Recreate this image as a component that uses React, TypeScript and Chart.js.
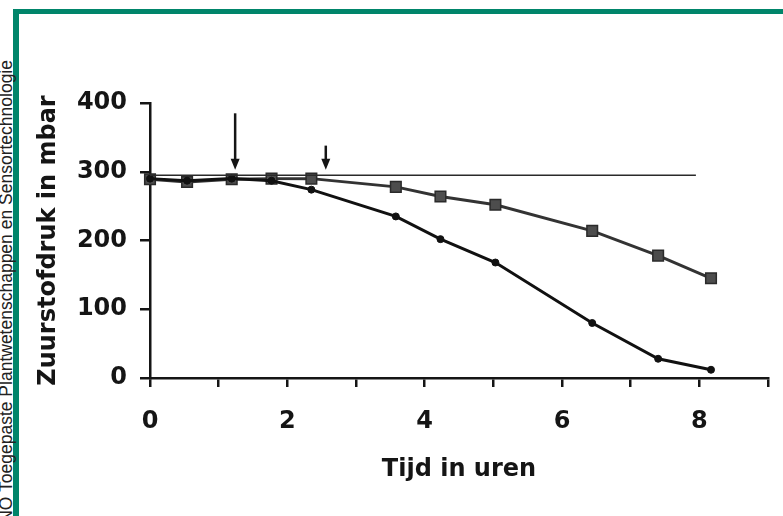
import React, { useEffect, useRef } from "react";
import { Chart, registerables } from "chart.js";

Chart.register(...registerables);

// Time in hours
const times = [0, 0.54, 1.19, 1.77, 2.35, 3.58, 4.23, 5.03, 6.44, 7.4, 8.17];
// Oxygen pressure (mbar) – upper series (squares)
const squareSeries = [289, 285, 289, 290, 290, 278, 264, 252, 214, 178, 145];
// Oxygen pressure (mbar) – lower series (dots)
const dotSeries = [290, 287, 290, 287, 274, 235, 202, 168, 80, 28, 12];
// Reference level line
const refLineX = [0, 7.95];
const refLineY = [295, 295];
// Arrows (x position, top value, tip value)
const arrowX = [1.24, 2.56];
const arrowTop = [385, 338];
const arrowTip = [303, 303];

const xTicks = [0, 1, 2, 3, 4, 5, 6, 7, 8, 9];
const yTicks = [0, 100, 200, 300, 400];

const GREEN = "#00856a";
const INK = "#151515";
const FONT = "'DejaVu Sans', sans-serif";

const arrowPlugin = {
  id: "arrows",
  afterDatasetsDraw(chart: any) {
    const { ctx, scales } = chart;
    const xs = scales.x;
    const ys = scales.y;
    ctx.save();
    ctx.strokeStyle = INK;
    ctx.fillStyle = INK;
    ctx.lineWidth = 2.5;
    arrowX.forEach((ax, i) => {
      const px = xs.getPixelForValue(ax);
      const pTop = ys.getPixelForValue(arrowTop[i]);
      const pTip = ys.getPixelForValue(arrowTip[i]);
      const head = 11;
      ctx.beginPath();
      ctx.moveTo(px, pTop);
      ctx.lineTo(px, pTip - head + 2);
      ctx.stroke();
      ctx.beginPath();
      ctx.moveTo(px - 4.5, pTip - head);
      ctx.lineTo(px + 4.5, pTip - head);
      ctx.lineTo(px, pTip);
      ctx.closePath();
      ctx.fill();
    });
    ctx.restore();
  },
};

export default function App() {
  const ref = useRef<HTMLCanvasElement | null>(null);

  useEffect(() => {
    document.body.style.margin = "0";
    document.body.style.background = "#ffffff";
    if (!ref.current) return;
    const chart = new Chart(ref.current, {
      type: "line",
      data: {
        datasets: [
          {
            label: "ref",
            data: refLineX.map((x, i) => ({ x, y: refLineY[i] })),
            borderColor: "#2a2a2a",
            borderWidth: 1.5,
            pointRadius: 0,
            clip: false as any,
          },
          {
            label: "dots",
            data: times.map((x, i) => ({ x, y: dotSeries[i] })),
            borderColor: "#111111",
            borderWidth: 3,
            pointStyle: "circle",
            pointRadius: 3.5,
            pointBackgroundColor: "#111111",
            pointBorderColor: "#111111",
            pointBorderWidth: 1,
            clip: false as any,
          },
          {
            label: "squares",
            data: times.map((x, i) => ({ x, y: squareSeries[i] })),
            borderColor: "#333333",
            borderWidth: 3,
            pointStyle: "rect",
            pointRadius: 7.5,
            pointBackgroundColor: "#4d4d4d",
            pointBorderColor: "#2a2a2a",
            pointBorderWidth: 1.5,
            clip: false as any,
          },
        ],
      },
      options: {
        animation: false,
        responsive: false,
        maintainAspectRatio: false,
        layout: { padding: { left: 20, right: 15, top: 103, bottom: 0 } },
        plugins: {
          legend: { display: false },
          tooltip: { enabled: false },
        },
        scales: {
          x: {
            type: "linear",
            min: 0,
            max: 9,
            afterFit(scale: any) {
              scale.height = 138;
              scale.paddingLeft = 0;
              scale.paddingRight = 0;
            },
            afterBuildTicks(scale: any) {
              scale.ticks = xTicks.map((v) => ({ value: v }));
            },
            border: { display: true, color: INK, width: 2.5 },
            grid: {
              display: true,
              drawOnChartArea: false,
              drawTicks: true,
              tickLength: 9,
              color: INK,
              lineWidth: 2.5,
            },
            ticks: {
              padding: 20,
              color: INK,
              font: { family: FONT, size: 24, weight: "bold" },
              callback: (v: any) => (Number(v) % 2 === 0 && Number(v) <= 8 ? String(v) : ""),
            },
            title: {
              display: true,
              text: "Tijd in uren",
              color: INK,
              font: { family: FONT, size: 24, weight: "bold" },
              padding: { top: 0, bottom: 32 },
            },
          },
          y: {
            type: "linear",
            min: 0,
            max: 400,
            afterFit(scale: any) {
              scale.width = 130;
            },
            afterBuildTicks(scale: any) {
              scale.ticks = yTicks.map((v) => ({ value: v }));
            },
            border: { display: true, color: INK, width: 2.5 },
            grid: {
              display: true,
              drawOnChartArea: false,
              drawTicks: true,
              tickLength: 10,
              color: INK,
              lineWidth: 2.5,
            },
            ticks: {
              padding: 13,
              color: INK,
              font: { family: FONT, size: 24, weight: "bold" },
            },
            title: {
              display: true,
              text: "Zuurstofdruk in mbar",
              color: INK,
              font: { family: FONT, size: 24, weight: "bold" },
              padding: { top: 14, bottom: 0 },
            },
          },
        },
      },
      plugins: [arrowPlugin],
    });
    return () => chart.destroy();
  }, []);

  return (
    <div
      style={{
        position: "fixed",
        left: 0,
        top: 0,
        width: 783,
        height: 516,
        background: "#ffffff",
        overflow: "hidden",
      }}
    >
      <div
        style={{
          position: "absolute",
          left: 13,
          top: 9,
          width: 800,
          height: 520,
          borderTop: `5px solid ${GREEN}`,
          borderLeft: `6px solid ${GREEN}`,
          boxSizing: "border-box",
        }}
      />
      <div
        style={{
          position: "absolute",
          left: -2,
          top: 660,
          width: 600,
          transformOrigin: "top left",
          transform: "rotate(-90deg)",
          textAlign: "right",
          whiteSpace: "nowrap",
          fontFamily: "'Liberation Sans', Arial, sans-serif",
          fontSize: 17.5,
          lineHeight: "17px",
          color: "#222",
        }}
      >
        NO Toegepaste Plantwetenschappen en Sensortechnologie
      </div>
      <canvas
        ref={ref}
        width={783}
        height={516}
        style={{ position: "absolute", left: 0, top: 0, width: 783, height: 516 }}
      />
    </div>
  );
}
